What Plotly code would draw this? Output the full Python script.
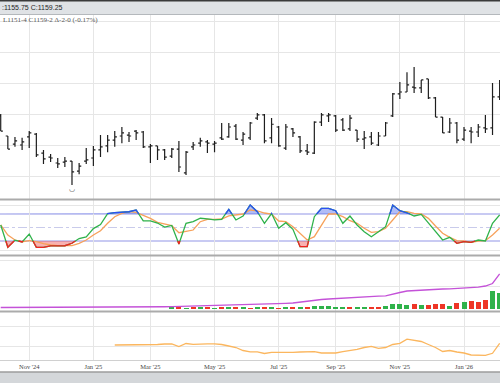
import pandas as pd
import plotly.graph_objects as go

# ---------------- data ----------------
FIRST_WEEK = "2024-10-07"
N_BARS = 71

OPEN = [1123.5, 1107.25, 1100.75, 1100.0, 1106.5, 1108.75, 1093.5, 1090.25, 1085.5, 1086.25,
        1087.0, 1079.0, 1087.0, 1089.5, 1096.0, 1099.25, 1104.0, 1107.25, 1108.0, 1111.25,
        1110.5, 1098.5, 1099.25, 1096.0, 1091.0, 1096.75, 1077.5, 1098.5, 1101.5, 1102.5,
        1100.75, 1105.75, 1106.5, 1115.25, 1104.0, 1105.75, 1121.75, 1124.25, 1105.75, 1114.5,
        1097.5, 1113.0, 1106.5, 1095.25, 1093.5, 1118.5, 1123.5, 1123.5, 1120.25, 1113.0,
        1112.0, 1104.75, 1106.5, 1100.0, 1107.25, 1123.5, 1141.25, 1142.75, 1146.75, 1146.0,
        1153.25, 1138.0, 1122.5, 1110.5, 1117.75, 1104.75, 1111.25, 1110.5, 1113.75, 1113.75,
        1138.75]
HIGH = [1125.0, 1107.25, 1106.5, 1105.75, 1111.25, 1109.75, 1096.0, 1092.75, 1089.5, 1090.25,
        1087.0, 1085.5, 1097.5, 1099.25, 1108.0, 1108.0, 1111.25, 1114.5, 1110.5, 1112.0,
        1111.25, 1100.75, 1099.25, 1096.75, 1097.5, 1103.25, 1095.25, 1102.5, 1105.75, 1104.0,
        1103.25, 1117.75, 1117.75, 1117.0, 1110.5, 1118.5, 1125.75, 1125.0, 1121.75, 1115.25,
        1117.0, 1113.75, 1107.25, 1100.75, 1119.25, 1125.75, 1125.75, 1124.25, 1121.75, 1124.25,
        1112.0, 1111.25, 1110.5, 1110.5, 1118.5, 1142.0, 1150.75, 1158.75, 1163.0, 1152.5,
        1153.25, 1138.75, 1122.5, 1121.75, 1118.5, 1114.5, 1114.5, 1117.0, 1124.25, 1150.0,
        1152.5]
LOW = [1111.25, 1096.75, 1098.5, 1096.0, 1097.5, 1090.25, 1084.75, 1086.25, 1081.5, 1082.25,
       1067.75, 1076.5, 1084.75, 1083.0, 1090.25, 1094.25, 1098.5, 1101.5, 1102.5, 1104.0,
       1097.5, 1085.5, 1088.0, 1088.0, 1089.5, 1078.25, 1075.75, 1096.0, 1098.5, 1093.5,
       1094.25, 1104.0, 1105.75, 1104.0, 1100.0, 1104.0, 1120.25, 1101.5, 1101.5, 1098.5,
       1096.0, 1106.5, 1093.5, 1092.0, 1092.75, 1115.25, 1118.5, 1110.5, 1111.25, 1111.25,
       1102.5, 1096.75, 1100.0, 1099.25, 1107.25, 1122.5, 1137.0, 1142.75, 1142.0, 1142.0,
       1137.0, 1122.5, 1109.75, 1109.75, 1101.5, 1103.25, 1101.5, 1106.5, 1109.75, 1108.0,
       1136.25]
CLOSE = [1111.25, 1096.75, 1103.25, 1102.5, 1109.75, 1092.0, 1088.75, 1089.5, 1084.75, 1087.0,
         1078.25, 1083.0, 1088.0, 1096.0, 1098.5, 1104.0, 1106.5, 1109.75, 1107.25, 1109.75,
         1098.5, 1099.25, 1096.0, 1090.25, 1096.75, 1082.25, 1094.25, 1100.0, 1103.25, 1101.5,
         1101.5, 1104.75, 1114.5, 1104.75, 1108.75, 1117.75, 1124.25, 1103.25, 1116.75, 1099.25,
         1114.5, 1109.75, 1095.25, 1094.25, 1118.5, 1124.25, 1124.25, 1112.0, 1112.0, 1121.75,
         1104.75, 1105.75, 1101.5, 1107.25, 1117.75, 1141.25, 1142.75, 1148.5, 1146.0, 1152.5,
         1138.0, 1122.5, 1109.75, 1117.75, 1104.0, 1112.0, 1110.5, 1114.5, 1113.0, 1138.75,
         1147.5]

STOCH_K = [55.6, 6, 22, 18, 35.5, 6, 6, 9, 9, 9.5,
           15, 25.5, 29, 47.5, 56.4, 81, 83, 84.5, 85, 89,
           64.5, 64.5, 60, 51, 54.5, 13.3, 59.3, 63, 70.5, 69,
           67, 68, 90.4, 66.7, 75.6, 100, 85, 59.3, 81, 48.2,
           60.7, 46, 7.3, 7.3, 74, 92.7, 92.7, 87.3, 59.3, 75.6,
           55.6, 40.7, 29.6, 40.7, 51.8, 100, 87.3, 82.9, 75.6, 79,
           59.3, 40.7, 22.2, 28.2, 14.9, 18.4, 17.1, 22.2, 20, 59.3,
           77.8]
STOCH_D = [55.6, 33.3, 22.2, 18.4, 20.7, 18.4, 14.4, 11.1, 9.6, 8.9,
           9.6, 14.9, 22.2, 33.3, 42.9, 59.3, 74, 81.5, 85.1, 83.8,
           77.8, 70.4, 61.6, 57.1, 54, 38.4, 40.7, 44.4, 62.9, 68.2,
           68.2, 68.9, 75.6, 77.8, 80, 88.9, 86.7, 82.2, 80, 64.4,
           62.9, 51.8, 37.1, 22.2, 29.6, 55.6, 80, 80, 74, 65.1,
           59.3, 48.2, 39.3, 40.7, 48.2, 66.7, 85.1, 85.1, 81.5, 80,
           70.4, 53.3, 37.1, 28.2, 20.7, 20, 17.1, 20, 20.7, 33.3,
           48.2]
STOCH_HIGH = 80
STOCH_MID = 50
STOCH_LOW = 20

VOLUME = [None] * 24 + [1100, 1200, 1000, 1200, 1100, 1300, 1000, 1200, 1100, 1300,
                        1200, 1000, 1300, 1100, 1200, 1000, 1300, 1100, 1200, 1200,
                        2600, 2500, 2100, 1600, 1200, 1300, 1100, 1200, 1500, 1600,
                        2600, 5000, 4200, 4000, 4100, 3600, 4000, 4600, 4400, 2600,
                        5100, 7000, 7100, 6900, 8100, 17200, 15800]
VOL_DIR = [None] * 24 + ["up", "down", "up", "down", "up", "down", "up", "down", "up", "down",
                         "up", "down", "up", "down", "up", "down", "up", "down", "up", "down",
                         "up", "up", "up", "up", "up", "down", "up", "up", "down", "down",
                         "up", "up", "up", "up", "down", "up", "down", "down", "down", "up",
                         "down", "up", "down", "down", "down", "up", "up"]
OPEN_INT = [2000, 2000, 2100, 2100, 2200, 2200, 2300, 2300, 2400, 2400,
            2500, 2500, 2600, 2600, 2700, 2700, 2800, 2800, 2900, 2900,
            3000, 3000, 3200, 3500, 3800, 4200, 4600, 5000, 5200, 5500,
            5800, 6000, 6300, 6500, 6800, 7000, 8000, 9000, 9000, 9600,
            10400, 11000, 13000, 15000, 17000, 18000, 19000, 20000, 21000, 21600,
            22400, 23000, 24000, 24600, 25400, 28000, 32000, 35000, 36000, 37000,
            38000, 38600, 39000, 39400, 40000, 40400, 41400, 42600, 45000, 50000,
            69000]
LOWER_LINE = [None] * 16 + [21, 21, 21, 21, 21, 21, 21.5, 22, 22, 19.5,
                            22.5, 21.7, 22.2, 22.2, 22.2, 21.5, 20, 18.5, 15.5, 14.2,
                            14.2, 12.5, 13.7, 13.5, 13.7, 13.7, 14, 14.3, 14.3, 13,
                            12.7, 13, 14.3, 15.3, 16.7, 18.5, 19.7, 17.7, 18.5, 21.5,
                            22.7, 26.8, 26, 24.5, 21.5, 18.5, 14.5, 15.5, 14, 13,
                            11, 10.7, 10.7, 12.7, 22.7]

TICK_LABELS = ["Nov '24", "Jan '25", "Mar '25", "May '25", "Jul '25", "Sep '25", "Nov '25", "Jan '26"]
HEADER_TEXT = ":1155.75 C:1159.25"
INFO_TEXT = "L1151-4 C1159-2 \u0394-2-0 (-0.17%)"

# ---------------- derived ----------------
dates = pd.date_range(FIRST_WEEK, periods=N_BARS, freq="W-MON")
idx = list(range(N_BARS))
tickvals, ticktext = [], []
for i, d in enumerate(dates):
    lab = d.strftime("%b '%y")
    if lab in TICK_LABELS and lab not in ticktext:
        tickvals.append(i)
        ticktext.append(lab)


def densify(xs, ys, levels):
    px, py_ = [], []
    for i in range(len(xs)):
        px.append(xs[i])
        py_.append(ys[i])
        if i + 1 < len(xs):
            y0, y1 = ys[i], ys[i + 1]
            cr = []
            for lv in levels:
                if (y0 - lv) * (y1 - lv) < 0:
                    t = (lv - y0) / (y1 - y0)
                    cr.append((xs[i] + t * (xs[i + 1] - xs[i]), lv))
            cr.sort()
            for cx, cy in cr:
                px.append(cx)
                py_.append(cy)
    return px, py_


dx, dk = densify(idx, STOCH_K, [STOCH_HIGH, STOCH_LOW])
k_hi = [max(v, STOCH_HIGH) for v in dk]
k_lo = [min(v, STOCH_LOW) for v in dk]
k_blue = [v if v >= STOCH_HIGH else None for v in dk]
k_red = [v if v <= STOCH_LOW else None for v in dk]

# ---------------- geometry ----------------
W, H = 500, 383


def py(p):
    return 1 - p / H


GRID = "#e6e6e6"
GREEN = "#2fb24a"
RED = "#ee3526"

fig = go.Figure()

fig.add_trace(go.Ohlc(
    x=idx, open=OPEN, high=HIGH, low=LOW, close=CLOSE,
    increasing=dict(line=dict(color="#1e1e1e", width=1.2)),
    decreasing=dict(line=dict(color="#1e1e1e", width=1.2)),
    tickwidth=0.3, xaxis="x", yaxis="y", showlegend=False, hoverinfo="skip"))

# stochastic
fig.add_trace(go.Scatter(x=dx, y=[STOCH_HIGH] * len(dx), mode="lines", line=dict(width=0),
                         xaxis="x", yaxis="y2", showlegend=False, hoverinfo="skip"))
fig.add_trace(go.Scatter(x=dx, y=k_hi, mode="lines", line=dict(width=0), fill="tonexty",
                         fillcolor="rgba(70,95,235,0.42)", xaxis="x", yaxis="y2",
                         showlegend=False, hoverinfo="skip"))
fig.add_trace(go.Scatter(x=dx, y=[STOCH_LOW] * len(dx), mode="lines", line=dict(width=0),
                         xaxis="x", yaxis="y2", showlegend=False, hoverinfo="skip"))
fig.add_trace(go.Scatter(x=dx, y=k_lo, mode="lines", line=dict(width=0), fill="tonexty",
                         fillcolor="rgba(240,70,70,0.42)", xaxis="x", yaxis="y2",
                         showlegend=False, hoverinfo="skip"))
fig.add_trace(go.Scatter(x=idx, y=STOCH_D, mode="lines", line=dict(color="#f7a15a", width=1.3),
                         xaxis="x", yaxis="y2", showlegend=False, hoverinfo="skip"))
fig.add_trace(go.Scatter(x=idx, y=STOCH_K, mode="lines", line=dict(color=GREEN, width=1.3),
                         xaxis="x", yaxis="y2", showlegend=False, hoverinfo="skip"))
fig.add_trace(go.Scatter(x=dx, y=k_blue, mode="lines", line=dict(color="#2b4ff5", width=1.3),
                         xaxis="x", yaxis="y2", showlegend=False, hoverinfo="skip"))
fig.add_trace(go.Scatter(x=dx, y=k_red, mode="lines", line=dict(color="#f22222", width=1.3),
                         xaxis="x", yaxis="y2", showlegend=False, hoverinfo="skip"))

# volume + open interest
vol_colors = [GREEN if d == "up" else RED for d in VOL_DIR]
fig.add_trace(go.Bar(x=idx, y=VOLUME, marker=dict(color=vol_colors, line=dict(width=0)),
                     width=0.7, xaxis="x", yaxis="y3", showlegend=False, hoverinfo="skip"))
fig.add_trace(go.Scatter(x=idx, y=OPEN_INT, mode="lines", line=dict(color="#c452d8", width=1.3),
                         xaxis="x", yaxis="y4", showlegend=False, hoverinfo="skip"))

# lower study
fig.add_trace(go.Scatter(x=idx, y=LOWER_LINE, mode="lines", line=dict(color="#fbb65e", width=1.3),
                         xaxis="x", yaxis="y5", showlegend=False, hoverinfo="skip"))

yax_common = dict(showticklabels=False, zeroline=False, showgrid=True, gridcolor=GRID,
                  gridwidth=1, ticks="", fixedrange=True)

shapes = [
    # header bands
    dict(type="rect", xref="paper", yref="paper", x0=0, x1=1, y0=py(14.5), y1=1,
         fillcolor="#dfe2e5", line=dict(width=0), layer="above"),
    dict(type="rect", xref="paper", yref="paper", x0=0, x1=1, y0=py(1.5), y1=1,
         fillcolor="#3a3a3a", line=dict(width=0), layer="above"),
    dict(type="line", xref="paper", yref="paper", x0=0, x1=1, y0=py(14.5), y1=py(14.5),
         line=dict(color="#b4b8bc", width=1), layer="above"),
    # footer band
    dict(type="rect", xref="paper", yref="paper", x0=0, x1=1, y0=0, y1=py(372),
         fillcolor="#d4d7da", line=dict(width=0), layer="above"),
    dict(type="line", xref="paper", yref="paper", x0=0, x1=1, y0=py(372), y1=py(372),
         line=dict(color="#9c9c9c", width=1.5), layer="above"),
    # stochastic levels
    dict(type="line", xref="paper", yref="y2", x0=0, x1=1, y0=STOCH_HIGH, y1=STOCH_HIGH,
         line=dict(color="#9195e6", width=1), layer="between"),
    dict(type="line", xref="paper", yref="y2", x0=0, x1=1, y0=STOCH_LOW, y1=STOCH_LOW,
         line=dict(color="#9195e6", width=1), layer="between"),
    dict(type="line", xref="paper", yref="y2", x0=0, x1=1, y0=STOCH_MID, y1=STOCH_MID,
         line=dict(color="#c9cbeb", width=1.2, dash="dashdot"), layer="between"),
]
for sep in (199.5, 255.5, 311.5):
    shapes.append(dict(type="line", xref="paper", yref="paper", x0=0, x1=1, y0=py(sep), y1=py(sep),
                       line=dict(color="#ababab", width=2), layer="above"))

i_min = LOW.index(min(LOW))
annotations = [
    dict(text=HEADER_TEXT, xref="paper", yref="paper", x=0, y=py(7.6), xanchor="left",
         yanchor="middle", showarrow=False,
         font=dict(family="Liberation Sans", size=7, color="#262626")),
    dict(text=INFO_TEXT, xref="paper", yref="paper", x=0.002, y=py(20.5), xanchor="left",
         yanchor="middle", showarrow=False,
         font=dict(family="Liberation Serif", size=7, color="#555555")),
    dict(text="\u25e1", xref="x", yref="y", x=i_min, y=LOW[i_min], xanchor="center",
         yanchor="top", showarrow=False, yshift=2,
         font=dict(family="DejaVu Sans", size=7, color="#333333")),
]

fig.update_layout(
    width=W, height=H,
    margin=dict(l=0, r=0, t=0, b=0, pad=0),
    paper_bgcolor="white", plot_bgcolor="white",
    showlegend=False, bargap=0,
    xaxis=dict(domain=[0, 1], range=[-0.1, 70.05], anchor="y5",
               tickmode="array", tickvals=tickvals, ticktext=ticktext,
               showgrid=True, gridcolor=GRID, gridwidth=1, zeroline=False,
               showline=True, linecolor="#d0d0d0", linewidth=1, ticks="",
               tickfont=dict(family="Liberation Serif", size=6.5, color="#444444"),
               rangeslider=dict(visible=False), fixedrange=True),
    yaxis=dict(domain=[py(199), py(15)], range=[1056.45, 1204.84], tick0=1000, dtick=25,
               **yax_common),
    yaxis2=dict(domain=[py(256), py(200)], range=[-13.33, 111.1], tickmode="array",
                tickvals=[0, 100], **yax_common),
    yaxis3=dict(domain=[py(311.5), py(256)], range=[-3000, 52500], tickmode="array",
                tickvals=[22500, 48500], **yax_common),
    yaxis4=dict(overlaying="y3", range=[-6000, 105000], showticklabels=False, showgrid=False,
                zeroline=False, fixedrange=True),
    yaxis5=dict(domain=[py(360), py(312)], range=[6, 54], tickmode="array",
                tickvals=[20, 40], **yax_common),
    shapes=shapes,
    annotations=annotations,
)

fig.write_html("out.html", include_plotlyjs=True, full_html=True,
               config={"displayModeBar": False, "staticPlot": True},
               post_script="document.body.style.margin='0';document.body.style.padding='0';"
                           "document.body.style.overflow='hidden';")
